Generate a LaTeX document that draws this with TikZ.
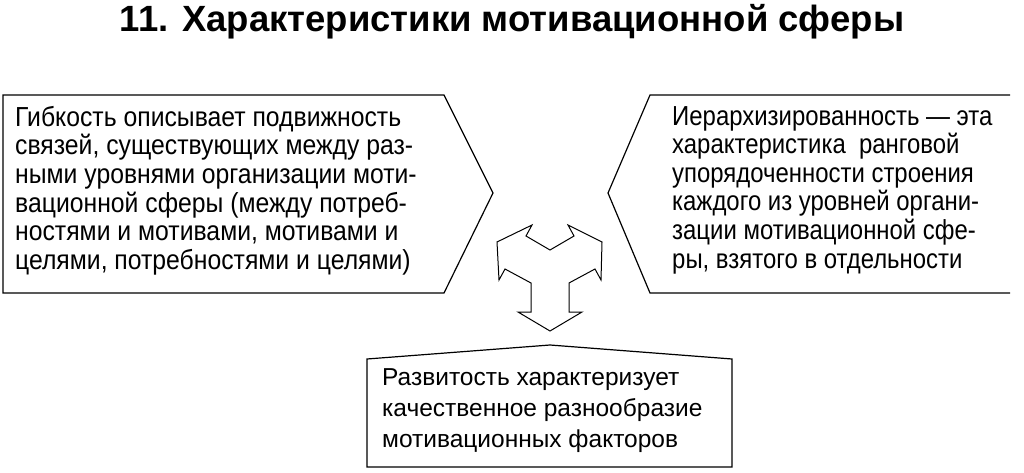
\documentclass[tikz,border=0pt]{standalone}
\usepackage{fontspec}
\setmainfont{Liberation Sans}
\newfontfamily\narrowf[FakeStretch=0.9]{Liberation Sans}
\newfontfamily\narrowg[FakeStretch=0.87]{Liberation Sans}
\begin{document}
\begin{tikzpicture}[x=1pt,y=-1pt,
  frame/.style={draw,line width=1.2pt,line join=miter},
  txt/.style={align=left,inner sep=0pt,anchor=north west}]
\useasboundingbox (0,0) rectangle (1024,473);
\node[inner sep=0pt,font=\fontsize{36.5}{38}\selectfont\bfseries] (title) at (512,22) {11. Характеристики мотивационной сферы};
\draw[frame] (3,95) -- (444,95) -- (493,193) -- (444,293) -- (3,293) -- cycle;
\draw[frame] (1010,95) -- (650,95) -- (608,193) -- (650,293) -- (1010,293);
\draw[frame] (367,359) -- (550,345) -- (732,359) -- (732,467) -- (367,467) -- cycle;
\draw[frame,line width=1pt] (497,242) -- (532,225) -- (526,236) -- (550,250) -- (574,236) -- (568,225)
 -- (602,242) -- (601,280) -- (595,269) -- (569,283) -- (569,312) -- (582,312) -- (550,331)
 -- (518,312) -- (531,312) -- (531,283) -- (505,269) -- (499,280) -- cycle;
\node[txt,font=\narrowf\fontsize{27.5}{28.6}\selectfont] (lt) at (15,106) {Гибкость описывает подвижность\\связей, существующих между раз-\\ными уровнями организации моти-\\вационной сферы (между потреб-\\ностями и мотивами, мотивами и\\целями, потребностями и целями)};
\node[txt,font=\narrowg\fontsize{27.5}{28.6}\selectfont] (rt) at (672,106) {Иерархизированность — эта\\характеристика\ \ ранговой\\упорядоченности строения\\каждого из уровней органи-\\зации мотивационной сфе-\\ры, взятого в отдельности};
\node[txt,font=\fontsize{24.5}{31}\selectfont] (bt) at (382,368) {Развитость характеризует\\качественное разнообразие\\мотивационных факторов};
\end{tikzpicture}
\end{document}
